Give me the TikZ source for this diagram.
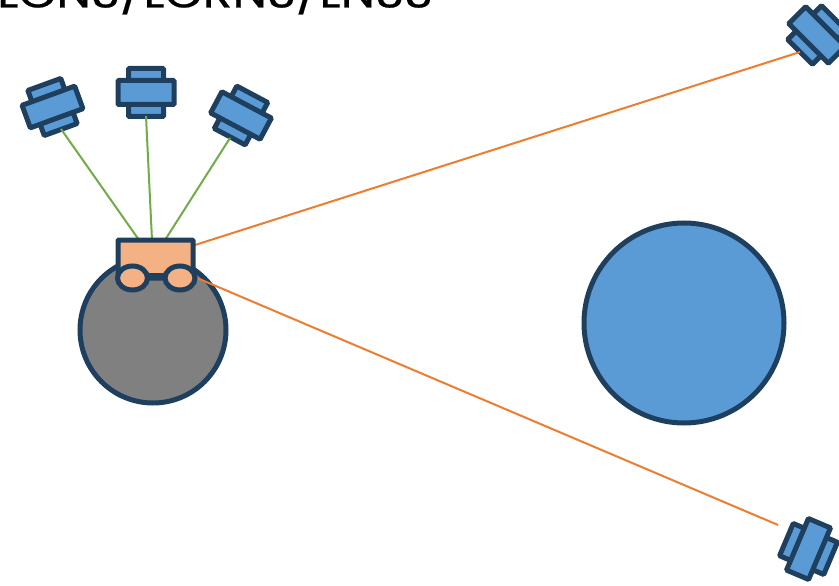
\documentclass[tikz,border=0pt]{standalone}
\usepackage{fontspec}
\usetikzlibrary{shapes.geometric}
\setmainfont{Poppins}
\newfontfamily\ttlfont[FakeStretch=1.2,FakeBold=0.4]{Poppins}
\definecolor{navy}{HTML}{1F3F5F}
\definecolor{sblue}{HTML}{5B9BD5}
\definecolor{peach}{HTML}{F4B183}
\definecolor{lgreen}{HTML}{70AD47}
\definecolor{lorange}{HTML}{ED7D31}
\tikzset{x=1pt,y=-1pt,
 part/.style={draw=navy,line width=5pt,fill=sblue,rounded corners=1pt},
 body disc/.style={circle,draw=navy,line width=5pt,inner sep=0pt},
 wheel/.style={ellipse,draw=navy,line width=5pt,fill=peach,minimum width=30pt,minimum height=24pt,inner sep=0pt},
 link/.style={line width=2pt},
}
\newcommand{\satel}[4]{% name, x, y, rot
 \begin{scope}[shift={(#2,#3)},rotate=#4]
  \draw[part] (-17.5,-24) rectangle (17.5,24);
  \draw[part] (-28,-12) rectangle (28,12);
  \coordinate (#1) at (0,0);
 \end{scope}}
\begin{document}
\begin{tikzpicture}
\useasboundingbox (0,0) rectangle (839,586);
\begin{scope}
\clip (0,0) rectangle (839,586);
\node[anchor=base west,inner sep=0pt,font=\ttlfont\fontsize{41}{41}\selectfont,text=black] (title) at (-3,7.5) {LCNS/LCRNS/LNSS};
\node[body disc,fill=sblue,minimum size=200pt] (moon) at (684,323) {};
\node[body disc,fill=gray,minimum size=146pt] (lander) at (153,330) {};
\satel{sa}{52.5}{107}{20}
\satel{sb}{146}{92.5}{0}
\satel{sc}{241}{115.5}{-28}
\satel{sd}{817}{35}{-45}
\satel{se}{808.5}{549}{67}
\coordinate (s1end) at (61,129);
\coordinate (s2end) at (146,116);
\coordinate (s3end) at (230,138);
\coordinate (s4end) at (800,52);
\coordinate (s5end) at (778,525);
\coordinate (g1) at (139,240);
\coordinate (g2) at (152,240);
\coordinate (g3) at (165,240);
\coordinate (o1) at (195,245);
\coordinate (o2) at (197,278);
\draw[lgreen,link] (s1end)--(g1);
\draw[lgreen,link] (s2end)--(g2);
\draw[lgreen,link] (s3end)--(g3);
\draw[lorange,link] (s4end)--(o1);
\draw[lorange,link] (s5end)--(o2);
\node[draw=navy,line width=5pt,fill=peach,rounded corners=1pt,minimum width=75pt,minimum height=38pt,inner sep=0pt] (body) at (155.5,259) {};
\draw[navy,line width=5pt] (132.5,275)--(180,275);
\node[wheel] (w1) at (132.5,278) {};
\node[wheel] (w2) at (180,278) {};
\end{scope}
\end{tikzpicture}
\end{document}
